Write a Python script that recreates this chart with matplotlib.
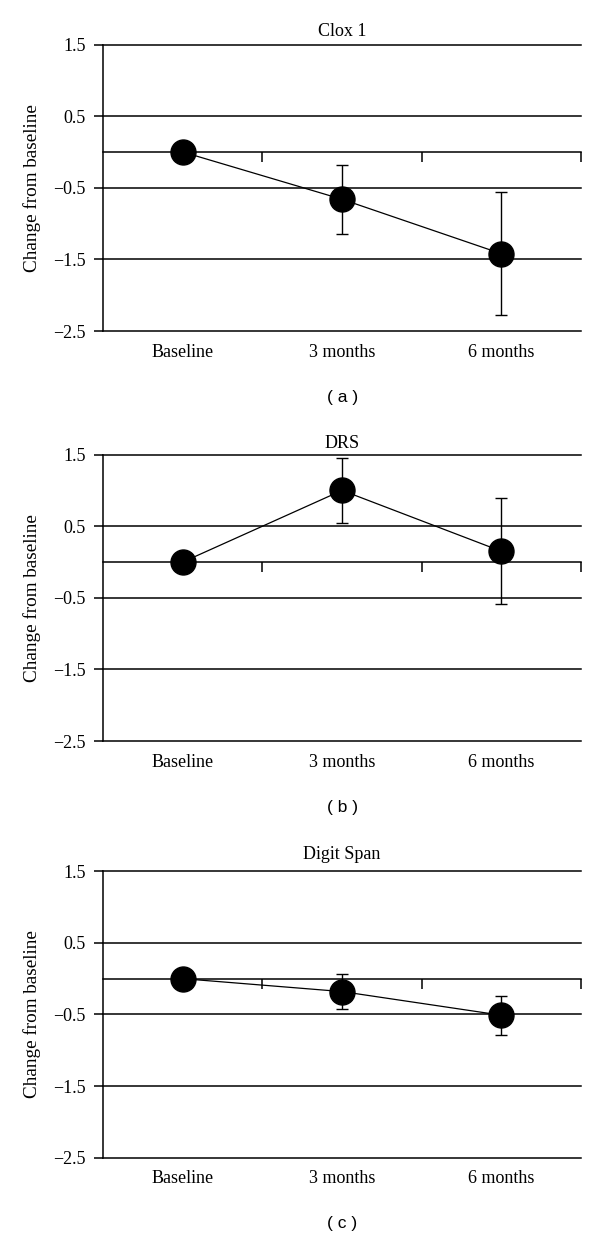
import matplotlib.pyplot as plt

# ======================
# 数据
# ======================
timepoints = ["Baseline", "3 months", "6 months"]
x_pos = [0, 1, 2]

clox_mean = [0.0, -0.66, -1.42]
clox_err = [0.0, 0.48, 0.86]

drs_mean = [0.0, 1.0, 0.15]
drs_err = [0.0, 0.45, 0.74]

digit_mean = [0.0, -0.18, -0.51]
digit_err = [0.0, 0.24, 0.27]

titles = ["Clox 1", "DRS", "Digit Span"]
panel_labels = ["( a )", "( b )", "( c )"]
y_ticks = [-2.5, -1.5, -0.5, 0.5, 1.5]
boundaries = [0.5, 1.5, 2.5]

means = [clox_mean, drs_mean, digit_mean]
errs = [clox_err, drs_err, digit_err]

serif = "Liberation Serif"
fs = 13

fig = plt.figure(figsize=(6, 12.39), dpi=100)

# axes positions (figure fraction)
bottoms = [0.7328, 0.4019, 0.0656]
title_pads = [6, 4.5, 9]

for i in range(3):
    ax = fig.add_axes([0.172, bottoms[i], 0.7963, 0.2312])
    ax.set_xlim(-0.5, 2.5)
    ax.set_ylim(-2.5, 1.5)

    # horizontal grid lines
    for yv in y_ticks:
        ax.axhline(yv, color="black", lw=1.1, zorder=1, clip_on=False)

    ax.errorbar(x_pos, means[i], yerr=errs[i], color="black", lw=0.9,
                elinewidth=1.0, capsize=4.2, capthick=1.0,
                marker="o", markersize=18, zorder=3)

    # spines
    ax.spines["top"].set_visible(False)
    ax.spines["right"].set_visible(False)
    ax.spines["left"].set_linewidth(1.1)
    ax.spines["bottom"].set_position(("data", 0))
    ax.spines["bottom"].set_linewidth(1.1)

    ax.set_yticks(y_ticks)
    ax.set_yticklabels([f"{v:.1f}".replace("-", "\u2212") for v in y_ticks],
                       fontfamily=serif, fontsize=fs)
    ax.tick_params(axis="y", length=6.5, width=1.1, pad=6)

    ax.set_xticks(boundaries)
    ax.set_xticklabels([])
    ax.tick_params(axis="x", length=7, width=1.1, direction="out")

    sec = ax.secondary_xaxis("bottom")
    sec.set_xticks(x_pos)
    sec.set_xticklabels(timepoints, fontfamily=serif, fontsize=fs)
    sec.tick_params(length=0, pad=9)
    sec.spines["bottom"].set_visible(False)

    ax.set_ylabel("Change from baseline", fontfamily=serif, fontsize=13.8, labelpad=9)
    ax.set_title(titles[i], fontfamily=serif, fontsize=fs, pad=title_pads[i])

    ax.annotate(panel_labels[i], xy=(0.5, 0), xycoords="axes fraction",
                xytext=(0, -47.5), textcoords="offset points",
                ha="center", va="center", fontfamily="Liberation Sans", fontsize=12.5)

fig.savefig("out.png", dpi=100)
